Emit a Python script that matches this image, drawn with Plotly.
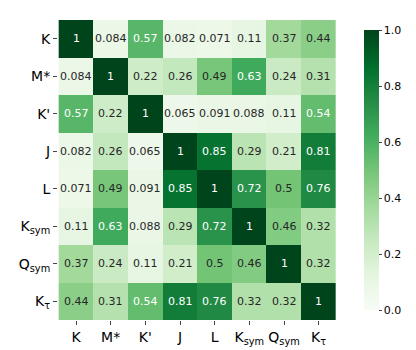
import plotly.graph_objects as go

# ── Data ─────────────────────────────────────────────────────────────────────
LABELS = ["K", "M*", "K'", "J", "L", "K<sub>sym</sub>", "Q<sub>sym</sub>", "K<sub>τ</sub>"]

ROW_K    = [1, 0.084, 0.57, 0.082, 0.071, 0.11, 0.37, 0.44]
ROW_M    = [0.084, 1, 0.22, 0.26, 0.49, 0.63, 0.24, 0.31]
ROW_KP   = [0.57, 0.22, 1, 0.065, 0.091, 0.088, 0.11, 0.54]
ROW_J    = [0.082, 0.26, 0.065, 1, 0.85, 0.29, 0.21, 0.81]
ROW_L    = [0.071, 0.49, 0.091, 0.85, 1, 0.72, 0.5, 0.76]
ROW_KSYM = [0.11, 0.63, 0.088, 0.29, 0.72, 1, 0.46, 0.32]
ROW_QSYM = [0.37, 0.24, 0.11, 0.21, 0.5, 0.46, 1, 0.32]
ROW_KTAU = [0.44, 0.31, 0.54, 0.81, 0.76, 0.32, 0.32, 1]

Z = [ROW_K, ROW_M, ROW_KP, ROW_J, ROW_L, ROW_KSYM, ROW_QSYM, ROW_KTAU]

GREENS = [
    [0.0, "#f7fcf5"], [0.125, "#e5f5e0"], [0.25, "#c7e9c0"], [0.375, "#a1d99b"],
    [0.5, "#74c476"], [0.625, "#41ab5d"], [0.75, "#238b45"], [0.875, "#006d2c"],
    [1.0, "#00441b"],
]

FONT = "DejaVu Sans, sans-serif"

fig = go.Figure(go.Heatmap(
    z=Z, x=LABELS, y=LABELS,
    colorscale=GREENS, zmin=0, zmax=1,
    colorbar=dict(
        thickness=15, len=1.0, lenmode="fraction",
        x=1.064, xanchor="left", y=0.5, yanchor="middle",
        tickvals=[0, 0.2, 0.4, 0.6, 0.8, 1.0], tickformat=".1f",
        ticks="outside", ticklen=3, outlinewidth=0,
        tickfont=dict(family=FONT, size=11, color="black"),
    ),
    hoverinfo="skip",
))

# cell annotations: white on dark cells, black on light ones
for i, row in enumerate(Z):
    for j, v in enumerate(row):
        txt = "1" if v == 1 else f"{v:g}"
        fig.add_annotation(
            x=LABELS[j], y=LABELS[i], text=txt, showarrow=False,
            font=dict(family=FONT, size=11, color="white" if v > 0.5 else "#262626"),
        )

fig.update_layout(
    width=416, height=350,
    paper_bgcolor="white", plot_bgcolor="white",
    margin=dict(l=50, r=68, t=12, b=38),
    font=dict(family=FONT, color="black"),
    xaxis=dict(showgrid=False, zeroline=False, ticks="outside", ticklen=4,
               tickfont=dict(size=14), tickangle=0),
    yaxis=dict(showgrid=False, zeroline=False, ticks="outside", ticklen=4,
               tickfont=dict(size=14), autorange="reversed"),
)

fig.write_html("out.html")
